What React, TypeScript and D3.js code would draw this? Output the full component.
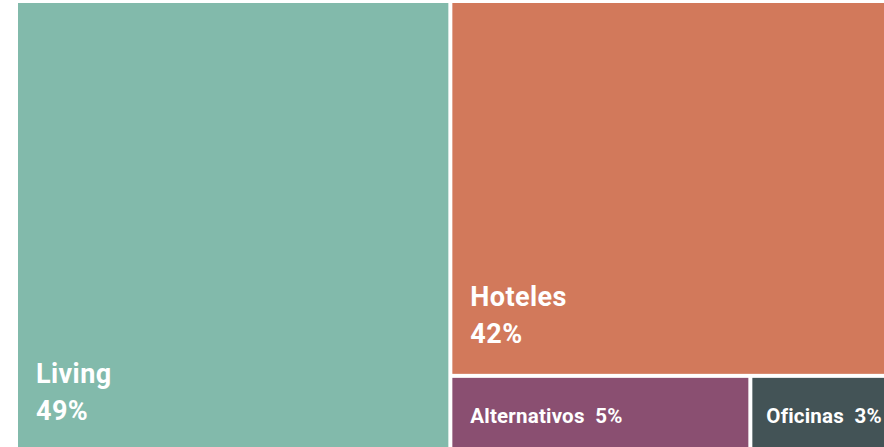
import React from "react";
import * as d3 from "d3";

// area shares as measured on the picture; printed labels as shown
const sectors = ["Living", "Hoteles", "Alternativos", "Oficinas"];
const shares = [49.2, 41.3, 5.8, 2.7];
const labels = ["49%", "42%", "5%", "3%"];
const colors = ["#82baab", "#d2795b", "#8a4f71", "#435356"];
const bigLabels = ["Living", "Hoteles"];

const W = 884, H = 447;

const App = () => {
  // nested so slice/dice gives: Living | (Hoteles / (Alternativos | Oficinas))
  const data = {
    name: "root",
    children: [
      { name: sectors[0], value: shares[0] },
      {
        name: "rest",
        children: [
          { name: sectors[1], value: shares[1] },
          {
            name: "small",
            children: [
              { name: sectors[2], value: shares[2] },
              { name: sectors[3], value: shares[3] },
            ],
          },
        ],
      },
    ],
  };

  const root = d3.hierarchy<any>(data).sum((d) => d.value || 0);
  d3.treemap<any>()
    .tile(d3.treemapSliceDice)
    .size([870, 448])
    .paddingInner(4)(root);

  const leaves = root.leaves() as any[];

  return (
    <svg
      width={W}
      height={H}
      style={{ position: "absolute", left: 0, top: 0, background: "#fff" }}
      fontFamily="Roboto, 'Noto Sans', sans-serif"
    >
      <g transform="translate(18,3)">
        {leaves.map((d) => {
          const i = sectors.indexOf(d.data.name);
          const big = bigLabels.includes(d.data.name);
          return (
            <g key={d.data.name}>
              <rect
                x={d.x0}
                y={d.y0}
                width={d.x1 - d.x0}
                height={d.y1 - d.y0}
                fill={colors[i]}
              />
              {big ? (
                <text fill="#fff" fontWeight={700} fontSize={27} letterSpacing={0.4}>
                  <tspan x={d.x0 + 18} y={d.y1 - 68}>{d.data.name}</tspan>
                  <tspan x={d.x0 + 18} y={d.y1 - 31}>{labels[i]}</tspan>
                </text>
              ) : (
                <text
                  x={d.x0 + (i === 3 ? 14 : 18)}
                  y={d.y1 - 28}
                  fill="#fff"
                  fontWeight={700}
                  fontSize={20.5}
                  letterSpacing={0.2}
                  style={{ whiteSpace: "pre" }}
                >
                  {d.data.name + "  " + labels[i]}
                </text>
              )}
            </g>
          );
        })}
      </g>
    </svg>
  );
};

export default App;
